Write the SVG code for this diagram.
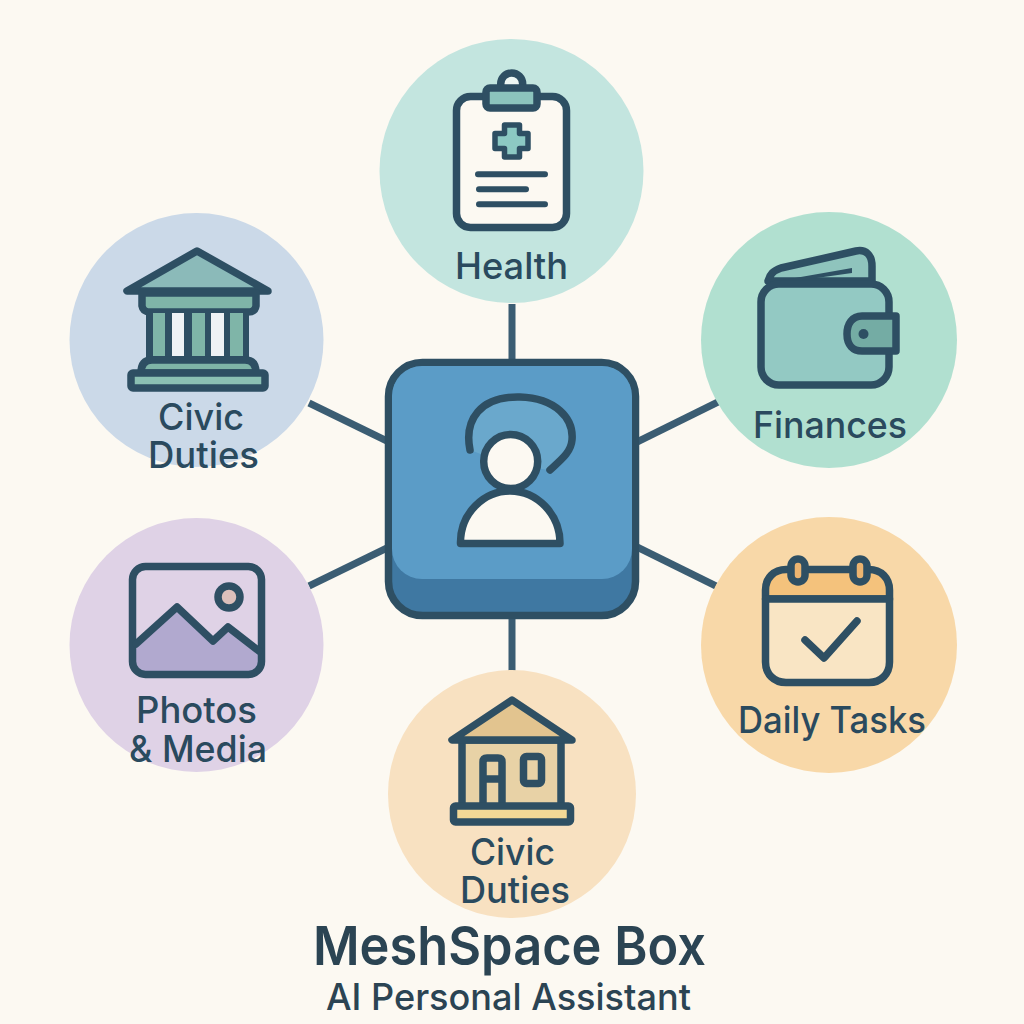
<svg xmlns="http://www.w3.org/2000/svg" width="1024" height="1024" viewBox="0 0 1024 1024">
<style>
.i{stroke:#2e4f63;stroke-width:7.500;stroke-linejoin:round;stroke-linecap:round}
.n{fill:none}
.t{font-family:"Inter","Roboto","Liberation Sans",sans-serif;font-size:37px;font-weight:500;fill:#2a4a5e;text-anchor:middle}
.c{stroke:#3b5d73;stroke-width:7;fill:none}
</style>
<rect width="1024" height="1024" fill="#fcf9f2"/>
<g id="connectors" class="c">
<line x1="512" y1="304" x2="512" y2="362"/>
<line x1="512" y1="617" x2="512" y2="671"/>
<line x1="309" y1="403" x2="387" y2="441"/>
<line x1="718" y1="402" x2="637" y2="442"/>
<line x1="309" y1="586" x2="387" y2="548"/>
<line x1="716" y1="586" x2="637" y2="547"/>
</g>
<g id="hub">
<rect x="388.500" y="362.500" width="247" height="253" rx="34" fill="#3f78a2" class="i"/>
<rect x="392" y="366" width="240" height="213" rx="30" fill="#5b9cc7"/>
<path d="M470 450C464 420 480 396 520 397C555 398 574 418 572 440C571 452 562 459 550 470L510 465Z" fill="#6aa8cc"/>
<path d="M470 450C464 420 480 396 520 397C555 398 574 418 572 440C571 452 562 459 550 470" class="i n"/>
<circle cx="510.700" cy="461.500" r="27" fill="#fcf9f2" class="i"/>
<path d="M460.500 543.500C460 513 484 491 510 491C537 491 560 514 560 543.500Z" fill="#fcf9f2" class="i"/>
</g>
<g id="health">
<circle cx="511.500" cy="171" r="132" fill="#c3e5df"/>
<rect x="456.500" y="96.500" width="110" height="131" rx="14" fill="#fcf9f2" class="i"/>
<circle cx="511.700" cy="84" r="11" fill="#eef7f4" class="i"/>
<rect x="486" y="88" width="51" height="20" rx="4" fill="#8cc4bd" class="i"/>
<path d="M504.500 125H519.500V133.500H528V148.500H519.500V157H504.500V148.500H495V133.500H504.500Z" fill="#8cc9c3" class="i" style="stroke-width:5.500"/>
<path d="M478 174.300H545M479 189.300H526M479 204.300H545" class="i n" style="stroke-width:6"/>
<text class="t" x="511.500" y="279" textLength="113" lengthAdjust="spacingAndGlyphs">Health</text>
</g>
<g id="civic-duties-left">
<circle cx="196.500" cy="340" r="127" fill="#cbd9e8"/>
<path d="M197 251L127 291H268Z" fill="#8bbab9" class="i"/>
<path d="M142 293H256V306Q255 312 248 312H150Q143 312 142 306Z" fill="#7fb5a8" class="i"/>
<rect x="146" y="312" width="103" height="48" fill="#2e4f63"/>
<path d="M153 313H165V356H153ZM192 313H205V356H192ZM230 313H243V356H230Z" fill="#7fb5a8"/>
<path d="M172 313H184V356H172ZM211 313H224V356H211Z" fill="#eef2f5"/>
<path d="M141 373Q141 360 152 360H245Q256 360 256 373Z" fill="#7fb5a8" class="i"/>
<rect x="131" y="373" width="134" height="15" rx="2" fill="#8bc0b3" class="i"/>
<text class="t"><tspan x="201" y="430" textLength="86" lengthAdjust="spacingAndGlyphs">Civic</tspan><tspan x="203.500" y="468" textLength="111" lengthAdjust="spacingAndGlyphs">Duties</tspan></text>
</g>
<g id="finances">
<circle cx="829" cy="340" r="128" fill="#b1e0d0"/>
<path d="M768 281C770 274 773 271 781 268L856 251C866 249 872 255 872 266V281Z" fill="#8fc4bd" class="i"/>
<path d="M778 281L852 268V273L795 281Z" fill="#2e4f63"/>
<rect x="761" y="284" width="128" height="101" rx="18" fill="#93c9c3" class="i"/>
<path d="M896 316H862C852 316 847 324 847 334C847 345 853 351 862 351H896Z" fill="#74aca4" class="i"/>
<circle cx="863.500" cy="334" r="5" fill="#2e4f63"/>
<text class="t" x="830" y="438" textLength="154" lengthAdjust="spacingAndGlyphs">Finances</text>
</g>
<g id="daily-tasks">
<circle cx="829" cy="645" r="128" fill="#f8d8a8"/>
<path d="M765.500 599V590C765.500 578 774 569.500 786 569.500H869C881 569.500 889.500 578 889.500 590V599Z" fill="#f4c27c" class="i"/>
<path d="M765.500 599H889.500V662C889.500 674 881 682.500 869 682.500H786C774 682.500 765.500 674 765.500 662Z" fill="#f9e5c4" class="i"/>
<rect x="791" y="559" width="14" height="23" rx="7" fill="#ecb470" class="i"/>
<rect x="853" y="559" width="14" height="23" rx="7" fill="#ecb470" class="i"/>
<path d="M805 640L824 658L857 621" class="i n"/>
<text class="t" x="832" y="733" textLength="188" lengthAdjust="spacingAndGlyphs">Daily Tasks</text>
</g>
<g id="photos-media">
<circle cx="196.500" cy="645" r="127" fill="#dfd2e6"/>
<path d="M136 644L177 607L213 641L228 627L259 651V665Q259 672 250 672H145Q136 672 136 665Z" fill="#b1a9cf"/>
<rect x="132.500" y="566.500" width="129" height="108" rx="13" class="i n"/>
<path d="M136 644L177 607L213 641L228 627L259 651" class="i n"/>
<circle cx="229" cy="597" r="11" fill="#dcc0bb" class="i"/>
<text class="t"><tspan x="196.500" y="723" textLength="121" lengthAdjust="spacingAndGlyphs">Photos</tspan><tspan x="198" y="762" textLength="138" lengthAdjust="spacingAndGlyphs">&amp; Media</tspan></text>
</g>
<g id="civic-duties-bottom">
<circle cx="512" cy="794" r="124" fill="#f8e1c1"/>
<rect x="462" y="740" width="99" height="68" fill="#e8d2a6" class="i"/>
<path d="M512 700L452 740H572Z" fill="#e2c48f" class="i"/>
<path d="M483 806V762Q483 758 487 758H498Q502 758 502 762V806M483 779H502" fill="#e8d2a6" class="i"/>
<rect x="523.500" y="756.500" width="18" height="27" rx="3" fill="#e8d2a6" class="i"/>
<rect x="453.500" y="806" width="117" height="16" rx="2" fill="#f2d896" class="i"/>
<text class="t"><tspan x="512.500" y="865" textLength="85" lengthAdjust="spacingAndGlyphs">Civic</tspan><tspan x="515" y="903" textLength="110" lengthAdjust="spacingAndGlyphs">Duties</tspan></text>
</g>
<g id="title">
<text x="509.500" y="965" textLength="393" lengthAdjust="spacingAndGlyphs" style="font-family:'Inter','Roboto','Liberation Sans',sans-serif;font-size:54px;font-weight:600;fill:#2b4453;text-anchor:middle">MeshSpace Box</text>
<text x="508.500" y="1010" textLength="365" lengthAdjust="spacingAndGlyphs" style="font-family:'Inter','Roboto','Liberation Sans',sans-serif;font-size:37px;font-weight:500;fill:#2b4453;text-anchor:middle">AI Personal Assistant</text>
</g>
</svg>
